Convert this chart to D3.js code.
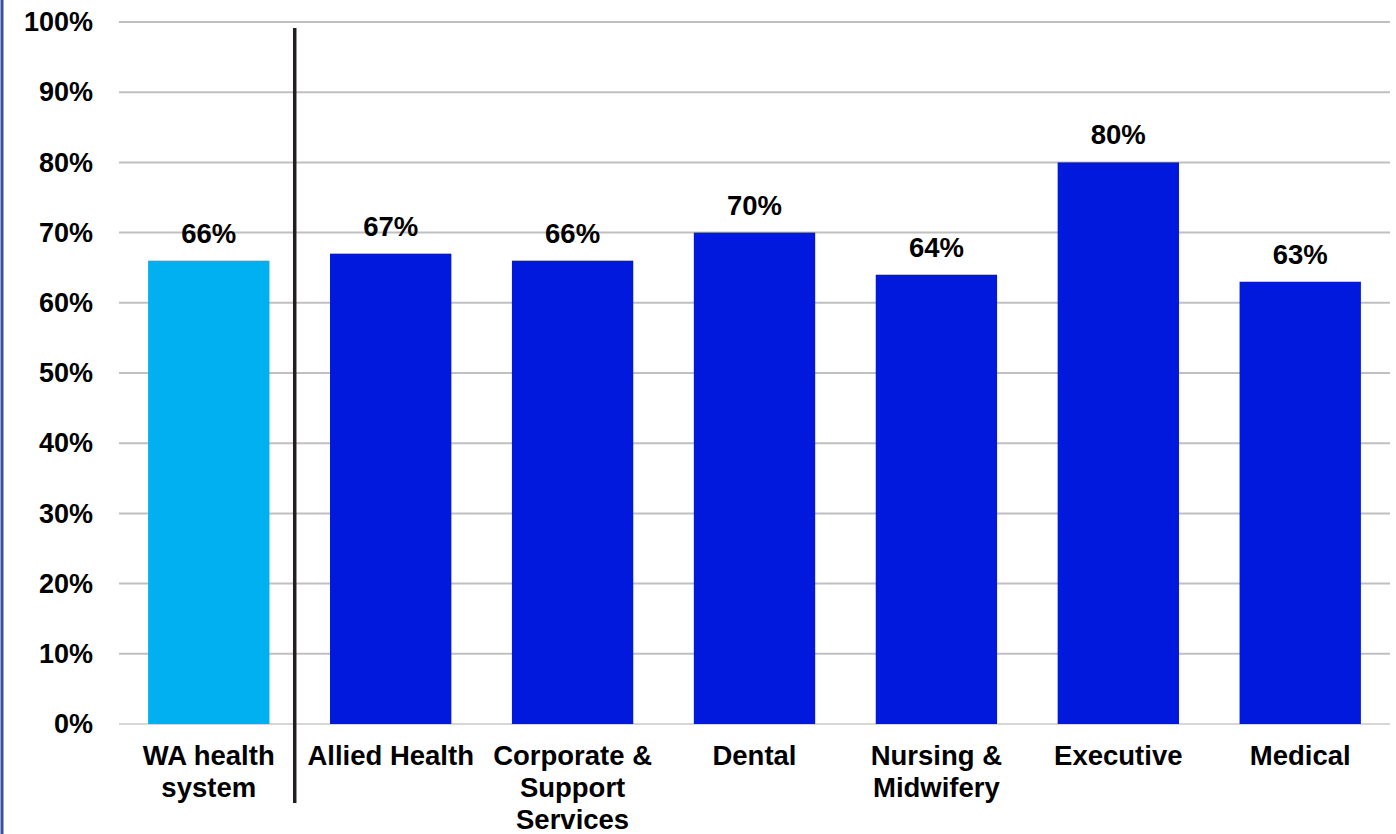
<!DOCTYPE html>
<html>
<head>
<meta charset="utf-8">
<script src="https://cdn.jsdelivr.net/npm/d3@7"></script>
<style>
  html, body { margin: 0; padding: 0; background: #ffffff; }
  svg { display: block; }
  text { font-family: "Liberation Sans", Arial, sans-serif; font-weight: bold; fill: #000; }
</style>
</head>
<body>
<svg id="chart" width="1396" height="834"></svg>
<script>
// Share of staff by occupational group, with the system-wide figure first
const categories = ["WA health system", "Allied Health", "Corporate & Support Services", "Dental", "Nursing & Midwifery", "Executive", "Medical"];
const categoryLines = [["WA health", "system"], ["Allied Health"], ["Corporate &", "Support", "Services"], ["Dental"], ["Nursing &", "Midwifery"], ["Executive"], ["Medical"]];
const values = [66, 67, 66, 70, 64, 80, 63];
const tickValues = [0, 10, 20, 30, 40, 50, 60, 70, 80, 90, 100];

const W = 1396, H = 834;
const margin = { left: 119, right: 6, top: 22, bottom: 110 };

const svg = d3.select("#chart");

// Frame edge on the left
svg.append("line")
  .attr("x1", 2).attr("x2", 2).attr("y1", 0).attr("y2", H)
  .attr("stroke", "#3b4fa3").attr("stroke-width", 3);

const x = d3.scaleBand()
  .domain(categories)
  .range([margin.left, W - margin.right])
  .paddingInner(0.333)
  .paddingOuter(0.16);

const y = d3.scaleLinear()
  .domain([0, 100])
  .range([H - margin.bottom, margin.top]);

// Horizontal gridlines
svg.append("g").selectAll("line")
  .data(tickValues)
  .join("line")
  .attr("x1", margin.left).attr("x2", W - margin.right)
  .attr("y1", d => y(d)).attr("y2", d => y(d))
  .attr("stroke", d => d === 0 ? "#d6d6d6" : "#c0c0c0")
  .attr("stroke-width", 2);

// Y axis tick labels
const yAxis = d3.axisLeft(y).tickValues(tickValues).tickFormat(d => d + "%").tickSize(0).tickPadding(26);
const yg = svg.append("g").attr("transform", `translate(${margin.left},0)`).call(yAxis);
yg.select(".domain").remove();
yg.selectAll("text")
  .style("font-family", "'Liberation Sans', Arial, sans-serif")
  .style("font-weight", "bold")
  .style("font-size", "27px")
  .attr("fill", "#000");

// Bars
svg.append("g").selectAll("rect")
  .data(categories)
  .join("rect")
  .attr("x", d => x(d))
  .attr("width", x.bandwidth())
  .attr("y", (d, i) => y(values[i]))
  .attr("height", (d, i) => y(0) - y(values[i]))
  .attr("fill", (d, i) => i === 0 ? "#00b0f0" : "#0019dc");

// Value labels
svg.append("g").selectAll("text")
  .data(categories)
  .join("text")
  .attr("x", d => x(d) + x.bandwidth() / 2)
  .attr("y", (d, i) => y(values[i]) - 18)
  .attr("text-anchor", "middle")
  .style("font-size", "27.5px")
  .text((d, i) => values[i] + "%");

// Category labels (multi-line)
const catG = svg.append("g").selectAll("text")
  .data(categories)
  .join("text")
  .attr("text-anchor", "middle")
  .style("font-size", "27.5px");
catG.each(function(d, i) {
  const t = d3.select(this);
  categoryLines[i].forEach((ln, j) => {
    t.append("tspan")
      .attr("x", x(d) + x.bandwidth() / 2)
      .attr("y", y(0) + 41 + j * 32)
      .text(ln);
  });
});

// Divider between the system total and the groups
const step = x.step();
const divX = x(categories[1]) - (step - x.bandwidth()) / 2 - 5;
svg.append("line")
  .attr("x1", divX).attr("x2", divX)
  .attr("y1", 28).attr("y2", 803)
  .attr("stroke", "#231f20").attr("stroke-width", 3.5);
</script>
</body>
</html>
